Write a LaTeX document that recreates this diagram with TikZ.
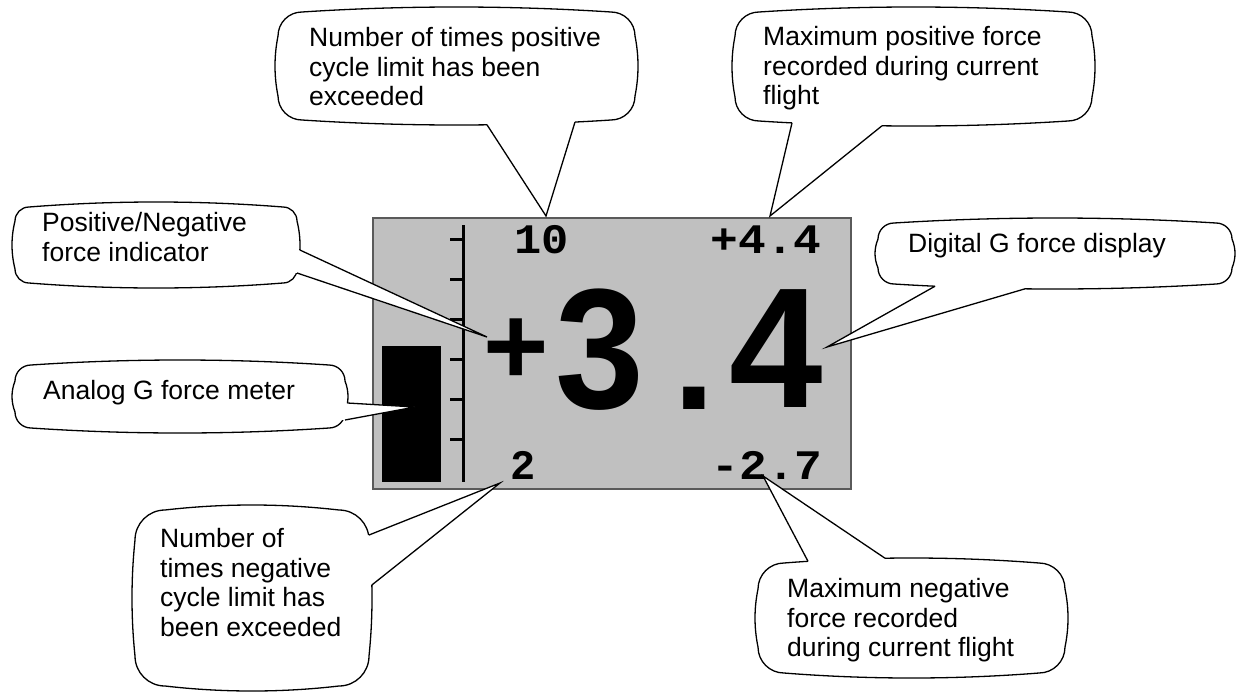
\documentclass[tikz,border=0pt]{standalone}
\usepackage{fontspec}
\usepackage{graphicx}
\setmainfont{Liberation Sans}
\newfontfamily\lcdmono{Liberation Mono}
\newfontfamily\lcdsans{Liberation Sans}
\definecolor{lcdbg}{RGB}{192,192,192}
\definecolor{lcdedge}{RGB}{90,90,90}
\tikzset{
  cline/.style={line width=1.3pt, black, line join=miter},
  ctext/.style={font=\fontsize{26.5}{29.5}\selectfont, align=left, inner sep=0pt, anchor=north west},
  lcdsmall/.style={font=\lcdmono\bfseries\fontsize{42}{42}\selectfont, inner sep=0pt},
  lcdbig/.style={font=\lcdsans\bfseries\fontsize{168}{168}\selectfont, inner sep=0pt},
  lcdpanel/.style={draw=lcdedge, fill=lcdbg, line width=2pt, inner sep=0pt, anchor=north west, minimum width=478pt, minimum height=271pt},
  scaleline/.style={line width=3pt, black},
}
% body of a callout: outer extents L T R B, corner radius r
\newcommand\setbubble[5]{%
  \pgfmathsetmacro\cbL{#1+3}\pgfmathsetmacro\cbR{#3-3}%
  \pgfmathsetmacro\cbT{#2+5}\pgfmathsetmacro\cbB{#4-5}%
  \pgfmathsetmacro\cbr{#5}\pgfmathsetmacro\cbk{0.448*#5}%
  \pgfmathsetmacro\cbwx{(\cbR-\cbL-2*\cbr)/3}%
  \pgfmathsetmacro\cbwy{(\cbB-\cbT-2*\cbr)/3}%
}
\newcommand\bubblepath{%
  ({\cbL+\cbr},\cbT) .. controls ({\cbL+\cbr+\cbwx},{\cbT-6.67}) and ({\cbR-\cbr-\cbwx},{\cbT-6.67}) .. ({\cbR-\cbr},\cbT)
  .. controls ({\cbR-\cbk},\cbT) and (\cbR,{\cbT+\cbk}) .. (\cbR,{\cbT+\cbr})
  .. controls ({\cbR+4},{\cbT+\cbr+\cbwy}) and ({\cbR+4},{\cbB-\cbr-\cbwy}) .. (\cbR,{\cbB-\cbr})
  .. controls (\cbR,{\cbB-\cbk}) and ({\cbR-\cbk},\cbB) .. ({\cbR-\cbr},\cbB)
  .. controls ({\cbR-\cbr-\cbwx},{\cbB+6.67}) and ({\cbL+\cbr+\cbwx},{\cbB+6.67}) .. ({\cbL+\cbr},\cbB)
  .. controls ({\cbL+\cbk},\cbB) and (\cbL,{\cbB-\cbk}) .. (\cbL,{\cbB-\cbr})
  .. controls ({\cbL-4},{\cbB-\cbr-\cbwy}) and ({\cbL-4},{\cbT+\cbr+\cbwy}) .. (\cbL,{\cbT+\cbr})
  .. controls (\cbL,{\cbT+\cbk}) and ({\cbL+\cbk},\cbT) .. ({\cbL+\cbr},\cbT) -- cycle}
\newcommand\drawcallout{%
  \fill[white] \bubblepath;
  \fill[white] (p1) -- (pt) -- (p2) -- (q2) -- (q1) -- cycle;
  \begin{scope}[even odd rule]
    \clip (-50,-50) rectangle (1300,750) (p1) -- (pt) -- (p2) -- (q2) -- (q1) -- cycle;
    \draw[cline] \bubblepath;
  \end{scope}
  \draw[cline] (p1) -- (pt) -- (p2);
}
% wedge on the bottom edge: x1 x2 tipname
\newcommand\wedgeB[3]{%
  \pgfmathsetmacro\cwm{(\cbL+\cbR)/2}\pgfmathsetmacro\cwh{(\cbR-\cbL-2*\cbr)/2}%
  \pgfmathsetmacro\cwu{(#1-\cwm)/\cwh}\pgfmathsetmacro\cwa{\cbB+5*max(0,1-(\cwu)*(\cwu))}%
  \pgfmathsetmacro\cwv{(#2-\cwm)/\cwh}\pgfmathsetmacro\cwb{\cbB+5*max(0,1-(\cwv)*(\cwv))}%
  \coordinate (p1) at (#1,\cwa); \coordinate (p2) at (#2,\cwb);
  \coordinate (q1) at (#1,{\cwa-12}); \coordinate (q2) at (#2,{\cwb-12});
  \coordinate (pt) at (#3);
  \drawcallout}
% wedge on the top edge
\newcommand\wedgeT[3]{%
  \pgfmathsetmacro\cwm{(\cbL+\cbR)/2}\pgfmathsetmacro\cwh{(\cbR-\cbL-2*\cbr)/2}%
  \pgfmathsetmacro\cwu{(#1-\cwm)/\cwh}\pgfmathsetmacro\cwa{\cbT-5*max(0,1-(\cwu)*(\cwu))}%
  \pgfmathsetmacro\cwv{(#2-\cwm)/\cwh}\pgfmathsetmacro\cwb{\cbT-5*max(0,1-(\cwv)*(\cwv))}%
  \coordinate (p1) at (#1,\cwa); \coordinate (p2) at (#2,\cwb);
  \coordinate (q1) at (#1,{\cwa+12}); \coordinate (q2) at (#2,{\cwb+12});
  \coordinate (pt) at (#3);
  \drawcallout}
% wedge on the right edge: y1 y2 tipname
\newcommand\wedgeR[3]{%
  \pgfmathsetmacro\cwm{(\cbT+\cbB)/2}\pgfmathsetmacro\cwh{(\cbB-\cbT-2*\cbr)/2}%
  \pgfmathsetmacro\cwu{(#1-\cwm)/\cwh}\pgfmathsetmacro\cwa{\cbR+3*max(0,1-(\cwu)*(\cwu))}%
  \pgfmathsetmacro\cwv{(#2-\cwm)/\cwh}\pgfmathsetmacro\cwb{\cbR+3*max(0,1-(\cwv)*(\cwv))}%
  \coordinate (p1) at (\cwa,#1); \coordinate (p2) at (\cwb,#2);
  \coordinate (q1) at ({\cwa-12},#1); \coordinate (q2) at ({\cwb-12},#2);
  \coordinate (pt) at (#3);
  \drawcallout}
\begin{document}
\begin{tikzpicture}[x=1pt,y=-1pt]
\useasboundingbox (0,0) rectangle (1238,696);
% LCD panel
\node[lcdpanel] (disp) at (372,217) {};
\fill (382,346) rectangle (441,482);
\draw[scaleline] (463,225) -- (463,482);
\foreach \ty in {239,279,319,359,399,439} \draw[scaleline] (450,\ty) -- (463,\ty);
\node[lcdsmall] (cpos) at (541.5,240) {\scalebox{1.08}[1]{10}};
\node[lcdsmall] (gmax) at (766,240) {\scalebox{1.1}[1]{+4.4}};
\node[lcdsmall] (cneg) at (523.5,465) {2};
\node[lcdsmall] (gmin) at (767,465) {\scalebox{1.1}[1]{-2.7}};
\node[lcdbig] (gsign) at (516,352) {\fontsize{112}{112}\selectfont +};
\node[lcdbig] (gint) at (600,350) {\scalebox{0.95}[1.02]{3}};
\node[lcdbig] (gdot) at (694.5,398.5) {\fontsize{150}{150}\selectfont .};
\node[lcdbig] (gdec) at (776.5,349) {\scalebox{1}[1.02]{4}};
% pointer targets
\coordinate (tipA) at (546,216);
\coordinate (tipB) at (770,216);
\coordinate (tipC) at (487,337);
\coordinate (tipD) at (415,407);
\coordinate (tipE) at (827,347);
\coordinate (tipF) at (500,483);
\coordinate (tipG) at (763,476);
% callouts
\setbubble{275}{7}{638}{125}{24}\wedgeB{487}{575}{tipA}
\node[ctext] (t1) at (309,27.5) {Number of times positive\\cycle limit has been\\exceeded};
\setbubble{732}{7}{1095}{126}{24}\wedgeB{792}{882}{tipB}
\node[ctext] (t2) at (763,26.5) {Maximum positive force\\recorded during current\\flight};
\setbubble{12}{202}{300}{288}{14}\wedgeR{250}{273}{tipC}
\node[ctext] (t3) at (42,212.5) {Positive/Negative\\force indicator};
\setbubble{12}{360}{348}{433}{16}\wedgeR{403}{420}{tipD}
\node[ctext] (t4) at (43,380.5) {Analog G force meter};
\setbubble{875}{218}{1235}{289}{16}\wedgeB{935}{1025}{tipE}
\node[ctext] (t5) at (908,233.5) {Digital G force display};
\setbubble{132}{505}{372}{691}{30}\wedgeR{535}{585}{tipF}
\node[ctext] (t6) at (160,528.5) {Number of\\times negative\\cycle limit has\\been exceeded};
\setbubble{755}{558}{1068}{678}{26}\wedgeT{808}{885}{tipG}
\node[ctext] (t7) at (787,578.5) {Maximum negative\\force recorded\\during current flight};
\end{tikzpicture}
\end{document}
